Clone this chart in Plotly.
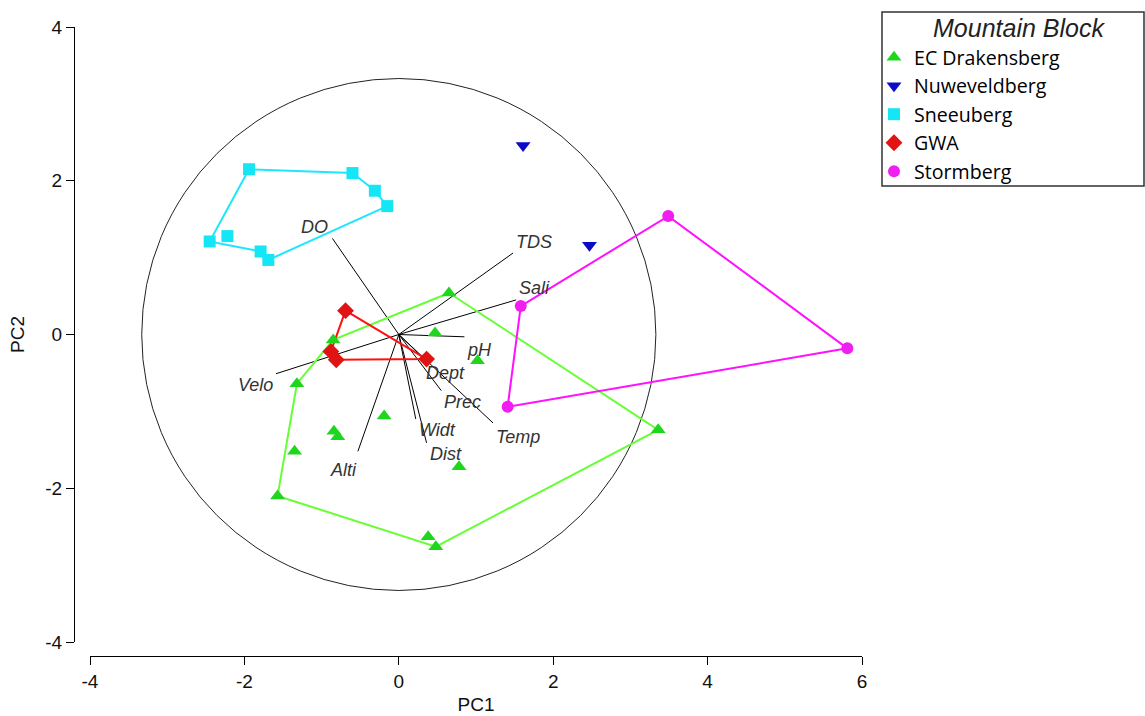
import plotly.graph_objects as go

# ---------------- data ----------------
groups = ["EC Drakensberg", "Nuweveldberg", "Sneeuberg", "GWA", "Stormberg"]

drak_x = [0.65, 0.47, 1.02, -0.85, -1.32, -1.35, -0.19, -0.84, -0.79, 0.78, -1.57, 0.38, 0.48, 3.36]
drak_y = [0.54, 0.02, -0.34, -0.07, -0.64, -1.52, -1.06, -1.26, -1.33, -1.72, -2.10, -2.63, -2.76, -1.24]
drak_hull = [0, 13, 12, 10, 4, 3, 0]

nuwe_x = [1.61, 2.47]
nuwe_y = [2.46, 1.16]
nuwe_hull = []

snee_x = [-1.94, -0.60, -0.31, -0.15, -2.45, -2.22, -1.79, -1.69]
snee_y = [2.15, 2.10, 1.87, 1.67, 1.21, 1.28, 1.08, 0.97]
snee_hull = [0, 1, 2, 3, 7, 6, 4, 0]

gwa_x = [-0.69, -0.88, -0.81, 0.36]
gwa_y = [0.31, -0.22, -0.33, -0.32]
gwa_hull = [0, 3, 2, 1, 0]

storm_x = [3.49, 5.81, 1.58, 1.41]
storm_y = [1.54, -0.18, 0.37, -0.94]
storm_hull = [2, 0, 1, 3, 2]

vec_names = ["DO", "TDS", "Sali", "pH", "Dept", "Prec", "Temp", "Widt", "Dist", "Alti", "Velo"]
vec_x = [-0.86, 1.48, 1.52, 0.85, 0.34, 0.55, 1.22, 0.22, 0.36, -0.53, -1.59]
vec_y = [1.25, 1.06, 0.45, -0.03, -0.33, -0.73, -1.15, -1.10, -1.41, -1.52, -0.51]

circle_radius = 3.33

x_ticks = [-4, -2, 0, 2, 4, 6]
x_ticktext = ["-4", "-2", "0", "2", "4", "6"]
y_ticks = [-4, -2, 0, 2, 4]
y_ticktext = ["-4", "-2", "0", "2", "4"]

# ---------------- styles ----------------
# pixel offsets of each vector label from the vector tip
vec_label_dx = [-18, 21, 18, 15, 20, 21, 25, 22, 19, -14, -21]
vec_label_dy = [-11, -11, -12, 13, 13, 11, 14, 11, 11, 19, 11]

marker_symbols = ["triangle-up", "triangle-down", "square", "diamond", "circle"]
marker_colors = ["#1fd61f", "#0a0ac8", "#14e6f5", "#e01414", "#f01ef0"]
line_colors = ["#66ff33", "#0a0ac8", "#1ee6ff", "#ff1010", "#ff10ff"]
marker_sizes = [13, 13, 12, 13, 12]

group_x = [drak_x, nuwe_x, snee_x, gwa_x, storm_x]
group_y = [drak_y, nuwe_y, snee_y, gwa_y, storm_y]
group_hull = [drak_hull, nuwe_hull, snee_hull, gwa_hull, storm_hull]

W, H = 1145, 716
ML, MR, MT, MB = 74, 1145 - 862, 27, 716 - 656
PW, PH = W - ML - MR, H - MT - MB

fig = go.Figure()

# vectors
vx, vy = [], []
for x, y in zip(vec_x, vec_y):
    vx += [0, x, None]
    vy += [0, y, None]
fig.add_trace(go.Scatter(x=vx, y=vy, mode="lines", line=dict(color="black", width=1),
                         showlegend=False, hoverinfo="skip"))
for name, x, y, dx, dy in zip(vec_names, vec_x, vec_y, vec_label_dx, vec_label_dy):
    fig.add_annotation(x=x, y=y, xref="x", yref="y", text="<i>" + name + "</i>",
                       showarrow=False, xshift=dx, yshift=-dy,
                       xanchor="center", yanchor="middle",
                       font=dict(family="Liberation Sans, Arial", size=18, color="#333333"))

# hulls
for i, g in enumerate(groups):
    hull = group_hull[i]
    if hull:
        fig.add_trace(go.Scatter(x=[group_x[i][k] for k in hull], y=[group_y[i][k] for k in hull],
                                 mode="lines", line=dict(color=line_colors[i], width=2),
                                 showlegend=False, hoverinfo="skip"))

# points
for i, g in enumerate(groups):
    fig.add_trace(go.Scatter(x=group_x[i], y=group_y[i], mode="markers", name=g,
                             marker=dict(symbol=marker_symbols[i], color=marker_colors[i],
                                         size=marker_sizes[i], line=dict(width=0))))

fig.add_shape(type="circle", xref="x", yref="y", x0=-circle_radius, x1=circle_radius,
              y0=-circle_radius, y1=circle_radius, line=dict(color="#222222", width=1),
              layer="below")

# legend box
lx0 = (882 - ML) / PW
lx1 = (1144 - ML) / PW
ly1 = (656 - 12) / PH
ly0 = (656 - 186) / PH
fig.add_shape(type="rect", xref="paper", yref="paper", x0=lx0, x1=lx1, y0=ly0, y1=ly1,
              line=dict(color="#333333", width=1.5))
fig.add_annotation(x=(1019 - ML) / PW, y=(656 - 28) / PH, xref="paper", yref="paper",
                   xanchor="center", yanchor="middle",
                   text="<i>Mountain Block</i>", showarrow=False,
                   font=dict(family="Liberation Sans, Arial", size=25, color="#222222"))

font_ax = dict(family="Liberation Sans, Arial", size=19, color="#111111")

fig.update_layout(
    width=W, height=H,
    margin=dict(l=ML, r=MR, t=MT, b=MB, pad=0),
    paper_bgcolor="white", plot_bgcolor="white",
    xaxis=dict(range=[-4, 6], domain=[(90 - ML) / PW, 1], anchor="free", position=0,
               tickvals=x_ticks, ticktext=x_ticktext, ticks="outside", ticklen=8, tickcolor="black",
               showline=True, linecolor="black", linewidth=1, showgrid=False, zeroline=False,
               tickfont=font_ax, title=dict(text="PC1", font=font_ax, standoff=6),
               automargin=False),
    yaxis=dict(range=[-4, 4], domain=[(656 - 642) / PH, 1], anchor="free", position=0,
               tickvals=y_ticks, ticktext=y_ticktext, ticks="outside", ticklen=8, tickcolor="black",
               showline=True, linecolor="black", linewidth=1, showgrid=False, zeroline=False,
               tickfont=font_ax, title=dict(text="PC2", font=font_ax, standoff=14),
               automargin=False),
    legend=dict(x=(874 - ML) / PW, y=(656 - 38) / PH, xanchor="left", yanchor="top",
                bgcolor="rgba(0,0,0,0)", borderwidth=0,
                font=dict(family="Open Sans", size=19.6, color="black"),
                tracegroupgap=0, itemwidth=30),
)

fig.write_html("out.html")
